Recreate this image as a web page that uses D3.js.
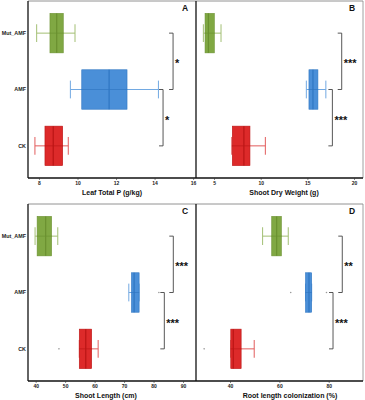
<!DOCTYPE html>
<html>
<head>
<meta charset="utf-8">
<script src="https://cdn.jsdelivr.net/npm/d3@7"></script>
<style>
  body { margin: 0; background: #fff; }
  svg { display: block; font-family: "Liberation Sans", Arial, sans-serif; }
</style>
</head>
<body>
<div id="chart"></div>
<script>
// Groups (top to bottom)
const groups = ['Mut_AMF', 'AMF', 'CK'];
const fills = { Mut_AMF: '#80a843', AMF: '#4a8fd8', CK: '#dd2a2a' };
const strokes = { Mut_AMF: '#6a9030', AMF: '#2f76c2', CK: '#bb1515' };
const whiskerCols = { Mut_AMF: '#a3bf74', AMF: '#72a9e2', CK: '#e25c5c' };

// Box stats per group: [min, q1, median, q3, max]
const leafPStats = [[7.88, 8.57, 8.92, 9.26, 9.87], [9.63, 10.22, 11.64, 12.57, 14.2], [7.79, 8.31, 8.74, 9.23, 9.52]];
const dryWeightStats = [[3.86, 4.04, 4.4, 5.03, 5.75], [14.89, 15.17, 15.6, 16.13, 16.98], [6.9, 6.96, 8.2, 8.85, 10.5]];
const shootLenStats = [[39.8, 40.5, 43.4, 45.4, 47.5], [71.6, 72.5, 73.4, 75.1, 75.1], [54.8, 54.8, 57.0, 59.0, 61.2]];
const colonStats = [[53.2, 56.9, 58.9, 60.8, 63.6], [70.6, 70.6, 72.0, 73.1, 73.1], [40.3, 40.3, 41.3, 44.5, 49.8]];

// Outliers per group
const leafPOut = [[], [], []];
const dryWeightOut = [[], [], []];
const shootLenOut = [[], [81.8], [47.9]];
const colonOut = [[], [64.6, 79.1], [29.5]];

// Tick labels
const leafPTicks = [8, 10, 12, 14, 16];
const dryWeightTicks = [5, 10, 15, 20];
const shootLenTicks = [40, 50, 60, 70, 80, 90];
const colonTicks = [40, 60, 80];

// Significance: [upper pair label, lower pair label] and bracket positions (data units)
const leafPSig = ['*', '*'];
const dryWeightSig = ['***', '***'];
const shootLenSig = ['***', '***'];
const colonSig = ['**', '***'];
const leafPBracket = [14.96, 14.44];
const dryWeightBracket = [18.68, 17.68];
const shootLenBracket = [86.7, 83.65];
const colonBracket = [85.5, 81.75];

const W = 365, H = 400;
const svg = d3.select('#chart').append('svg').attr('width', W).attr('height', H);

const panels = [
  { id: 'A', title: 'Leaf Total P (g/kg)', stats: leafPStats, out: leafPOut, ticks: leafPTicks, sig: leafPSig, br: leafPBracket,
    domain: [7.43, 16.15], x0: 28, x1: 196, y0: 1, y1: 178, cats: true, titleX: 112 },
  { id: 'B', title: 'Shoot Dry Weight (g)', stats: dryWeightStats, out: dryWeightOut, ticks: dryWeightTicks, sig: dryWeightSig, br: dryWeightBracket,
    domain: [3.07, 20.96], x0: 196, x1: 363, y0: 1, y1: 178, cats: false, titleX: 284 },
  { id: 'C', title: 'Shoot Length (cm)', stats: shootLenStats, out: shootLenOut, ticks: shootLenTicks, sig: shootLenSig, br: shootLenBracket,
    domain: [37.4, 94.4], x0: 28, x1: 196, y0: 204, y1: 381, cats: true, titleX: 106 },
  { id: 'D', title: 'Root length colonization (%)', stats: colonStats, out: colonOut, ticks: colonTicks, sig: colonSig, br: colonBracket,
    domain: [26.2, 93.9], x0: 196, x1: 363, y0: 204, y1: 381, cats: false, titleX: 290 }
];

// Frames (per row)
[[1, 178], [204, 381]].forEach(([t, b]) => {
  svg.append('line').attr('x1', 28).attr('x2', 363).attr('y1', t).attr('y2', t).attr('stroke', '#777').attr('stroke-width', 0.8);
  svg.append('line').attr('x1', 363).attr('x2', 363).attr('y1', t).attr('y2', b).attr('stroke', '#888').attr('stroke-width', 0.8);
  svg.append('line').attr('x1', 28).attr('x2', 28).attr('y1', t).attr('y2', b).attr('stroke', '#111').attr('stroke-width', 1.3);
  svg.append('line').attr('x1', 196).attr('x2', 196).attr('y1', t).attr('y2', b).attr('stroke', '#111').attr('stroke-width', 1.3);
  svg.append('line').attr('x1', 28).attr('x2', 363).attr('y1', b).attr('y2', b).attr('stroke', '#111').attr('stroke-width', 1.3);
});

panels.forEach(p => {
  const x = d3.scaleLinear().domain(p.domain).range([p.x0, p.x1]);
  const y = d3.scalePoint().domain(groups).range([p.y0, p.y1]).padding(0.57);
  const boxH = y.step() * 0.7;
  const capH = boxH * 0.45;
  const g = svg.append('g');

  // Axis ticks + labels
  const axis = d3.axisBottom(x).tickValues(p.ticks).tickSize(2).tickPadding(1.5);
  const ax = g.append('g').attr('transform', `translate(0,${p.y1})`).call(axis);
  ax.select('.domain').remove();
  ax.selectAll('.tick line').attr('stroke', '#333').attr('stroke-width', 0.6);
  ax.selectAll('.tick text').attr('fill', '#222').style('font-size', '5px').style('font-weight', 'bold')
    .style('font-family', '"Liberation Sans", Arial, sans-serif');

  // Axis title
  g.append('text').attr('x', p.titleX).attr('y', p.y1 + 17).attr('text-anchor', 'middle')
    .style('font-size', '7px').style('font-weight', 'bold').attr('fill', '#111').text(p.title);

  // Panel label
  g.append('text').attr('x', p.x1 - 11).attr('y', p.y0 + 10).attr('text-anchor', 'middle')
    .style('font-size', '8.5px').style('font-weight', 'bold').attr('fill', '#111').text(p.id);

  // Category labels
  if (p.cats) {
    groups.forEach(c => {
      g.append('text').attr('x', 26).attr('y', y(c)).attr('dy', '0.35em').attr('text-anchor', 'end')
        .style('font-size', '5.4px').style('font-weight', 'bold').attr('fill', '#222').text(c);
    });
  }

  const data = groups.map((c, i) => ({ c, s: p.stats[i], out: p.out[i] }));

  // Whisker line
  g.selectAll('.whisk').data(data).enter().append('line')
    .attr('x1', d => x(d.s[0])).attr('x2', d => x(d.s[4]))
    .attr('y1', d => y(d.c)).attr('y2', d => y(d.c))
    .attr('stroke', d => whiskerCols[d.c]).attr('stroke-width', 1);

  // Caps
  data.forEach(d => {
    [d.s[0], d.s[4]].forEach(v => {
      g.append('line').attr('x1', x(v)).attr('x2', x(v))
        .attr('y1', y(d.c) - capH / 2).attr('y2', y(d.c) + capH / 2)
        .attr('stroke', whiskerCols[d.c]).attr('stroke-width', 1);
    });
  });

  // Boxes
  g.selectAll('.box').data(data).enter().append('rect')
    .attr('x', d => x(d.s[1])).attr('width', d => x(d.s[3]) - x(d.s[1]))
    .attr('y', d => y(d.c) - boxH / 2).attr('height', boxH)
    .attr('fill', d => fills[d.c]).attr('stroke', d => strokes[d.c]).attr('stroke-width', 0.6);

  // Whisker through box (darker)
  g.selectAll('.inner').data(data).enter().append('line')
    .attr('x1', d => x(d.s[1])).attr('x2', d => x(d.s[3]))
    .attr('y1', d => y(d.c)).attr('y2', d => y(d.c))
    .attr('stroke', d => strokes[d.c]).attr('stroke-width', 0.8).attr('opacity', 0.8);

  // Median
  g.selectAll('.med').data(data).enter().append('line')
    .attr('x1', d => x(d.s[2])).attr('x2', d => x(d.s[2]))
    .attr('y1', d => y(d.c) - boxH / 2).attr('y2', d => y(d.c) + boxH / 2)
    .attr('stroke', d => strokes[d.c]).attr('stroke-width', 1.2);

  // Outliers
  data.forEach(d => {
    d.out.forEach(v => {
      g.append('circle').attr('cx', x(v)).attr('cy', y(d.c)).attr('r', 0.8).attr('fill', '#999');
    });
  });

  // Significance brackets
  const pairs = [['Mut_AMF', 'AMF'], ['AMF', 'CK']];
  pairs.forEach(([a, b], i) => {
    const bx = x(p.br[i]);
    const ya = y(a), yb = y(b);
    g.append('path')
      .attr('d', `M${bx - 4},${ya}H${bx}V${yb}H${bx - 4}`)
      .attr('fill', 'none').attr('stroke', '#444').attr('stroke-width', 0.9);
    g.append('text').attr('x', bx + 2).attr('y', (ya + yb) / 2 + 6)
      .style('font-size', '11px').style('font-weight', 'bold').attr('fill', '#111').text(p.sig[i]);
  });
});
</script>
</body>
</html>
